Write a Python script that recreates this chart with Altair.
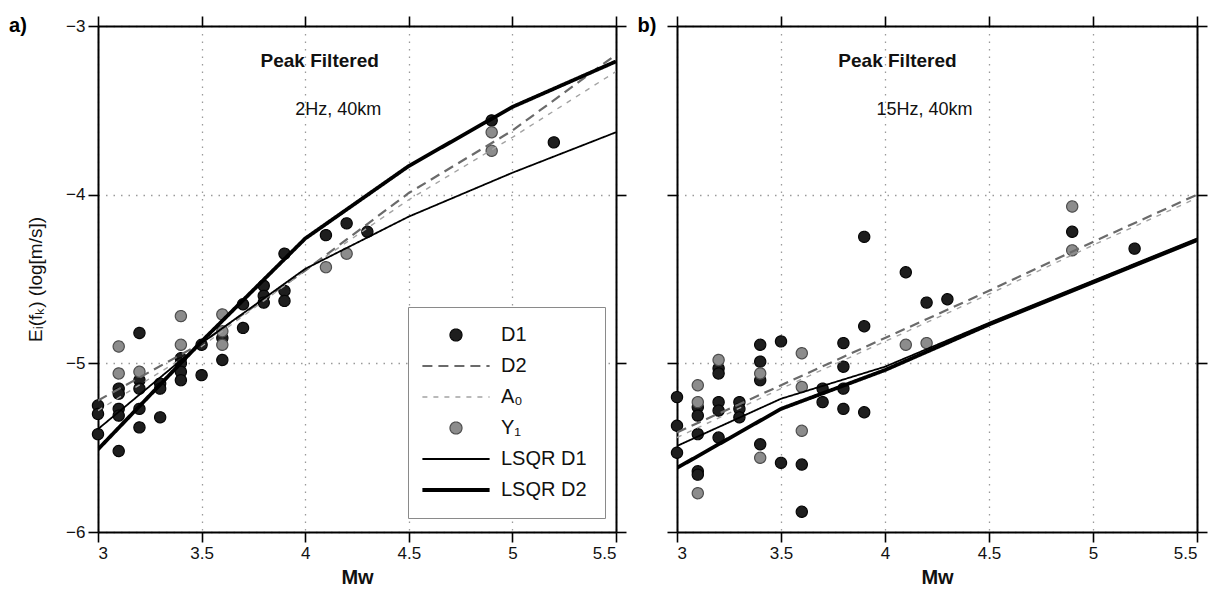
import altair as alt
import pandas as pd

FONT = "Liberation Sans"
SERIES = ["D1", "D2", "A₀", "Y₁", "LSQR D1", "LSQR D2"]

# ---------------- panel a) 2 Hz, 40 km ----------------
a_d1_x = [3.0, 3.0, 3.0, 3.1, 3.1, 3.1, 3.1, 3.1, 3.2, 3.2, 3.2, 3.2, 3.2,
          3.3, 3.3, 3.3, 3.4, 3.4, 3.4, 3.4, 3.5, 3.5, 3.6, 3.6, 3.7, 3.7,
          3.8, 3.8, 3.8, 3.9, 3.9, 3.9, 4.1, 4.2, 4.3, 4.9, 5.2]
a_d1_y = [-5.25, -5.30, -5.42, -5.15, -5.18, -5.27, -5.31, -5.52, -4.82, -5.10,
          -5.15, -5.27, -5.38, -5.12, -5.15, -5.32, -4.97, -5.00, -5.05, -5.10,
          -4.89, -5.07, -4.85, -4.98, -4.65, -4.79, -4.54, -4.60, -4.64, -4.35,
          -4.57, -4.63, -4.24, -4.17, -4.22, -3.56, -3.69]
a_y1_x = [3.1, 3.1, 3.2, 3.4, 3.4, 3.6, 3.6, 3.6, 4.1, 4.2, 4.9, 4.9]
a_y1_y = [-4.90, -5.06, -5.05, -4.72, -4.89, -4.71, -4.81, -4.89, -4.43, -4.35,
          -3.63, -3.74]

MW = [3.0, 3.5, 4.0, 4.5, 5.0, 5.5]
a_d2_line = [-5.22, -4.88, -4.45, -3.99, -3.62, -3.17]
a_a0_line = [-5.28, -4.90, -4.45, -4.03, -3.66, -3.27]
a_lsqr_d1 = [-5.39, -4.88, -4.44, -4.13, -3.87, -3.63]
a_lsqr_d2 = [-5.51, -4.87, -4.26, -3.83, -3.48, -3.21]

# ---------------- panel b) 15 Hz, 40 km ----------------
b_d1_x = [3.0, 3.0, 3.0, 3.1, 3.1, 3.1, 3.1, 3.1, 3.2, 3.2, 3.2, 3.2, 3.2,
          3.3, 3.3, 3.3, 3.4, 3.4, 3.4, 3.4, 3.5, 3.5, 3.6, 3.6, 3.7, 3.7,
          3.8, 3.8, 3.8, 3.8, 3.9, 3.9, 3.9, 4.1, 4.2, 4.3, 4.9, 5.2]
b_d1_y = [-5.20, -5.37, -5.53, -5.26, -5.31, -5.42, -5.64, -5.66, -5.03, -5.06,
          -5.23, -5.28, -5.44, -5.23, -5.27, -5.32, -4.89, -4.99, -5.10, -5.48,
          -4.87, -5.59, -5.60, -5.88, -5.15, -5.23, -4.88, -5.02, -5.15, -5.27,
          -4.25, -4.78, -5.29, -4.46, -4.64, -4.62, -4.22, -4.32]
b_y1_x = [3.1, 3.1, 3.1, 3.2, 3.4, 3.4, 3.6, 3.6, 3.6, 4.1, 4.2, 4.9, 4.9]
b_y1_y = [-5.13, -5.23, -5.77, -4.98, -5.06, -5.56, -4.94, -5.14, -5.40, -4.89,
          -4.88, -4.07, -4.33]

b_d2_line = [-5.41, -5.13, -4.85, -4.57, -4.28, -4.00]
b_a0_line = [-5.44, -5.15, -4.87, -4.59, -4.30, -4.02]
b_lsqr_d1 = [-5.49, -5.21, -5.02, -4.76, -4.51, -4.26]
b_lsqr_d2 = [-5.62, -5.27, -5.04, -4.77, -4.52, -4.27]

# annotation text (data coordinates)
a_labels = ["Peak Filtered", "2Hz, 40km"]
b_labels = ["Peak Filtered", "15Hz, 40km"]
lab_x_a = [4.07, 4.16]
lab_x_b = [4.06, 4.19]
lab_y = [-3.21, -3.50]


def points_df(d1x, d1y, y1x, y1y):
    rows = [{"Mw": x, "E": y, "series": "D1"} for x, y in zip(d1x, d1y)]
    rows += [{"Mw": x, "E": y, "series": "Y₁"} for x, y in zip(y1x, y1y)]
    return pd.DataFrame(rows)


def lines_df(d2, a0, l1, l2):
    rows = []
    for name, vals in [("D2", d2), ("A₀", a0), ("LSQR D1", l1), ("LSQR D2", l2)]:
        for i, (x, y) in enumerate(zip(MW, vals)):
            rows.append({"Mw": x, "E": y, "series": name, "o": i})
    return pd.DataFrame(rows)


LINE_PATH = "M-5.6,0H5.6"
shape_scale = alt.Scale(domain=SERIES,
                        range=["circle", LINE_PATH, LINE_PATH, "circle", LINE_PATH, LINE_PATH])
fill_scale = alt.Scale(domain=SERIES,
                       range=["#1e1e1e", "transparent", "transparent", "#8c8c8c",
                              "transparent", "transparent"])
stroke_scale = alt.Scale(domain=SERIES,
                         range=["#050505", "#6a6a6a", "#a3a3a3", "#4d4d4d", "#000000", "#000000"])
sw_scale = alt.Scale(type="ordinal", domain=SERIES, range=[1.2, 2.2, 1.4, 1.2, 1.8, 3.8])
dash_scale = alt.Scale(domain=SERIES,
                       range=[[1, 0], [10, 6], [5, 6], [1, 0], [1, 0], [1, 0]])

X_SCALE = alt.Scale(domain=[3, 5.5], nice=False, zero=False)
Y_SCALE = alt.Scale(domain=[-6, -3], nice=False, zero=False)


def panel(pdf, ldf, labels, lab_x, title, show_legend, width, ylabels, tdx):
    if show_legend:
        leg = alt.Legend(orient="none", legendX=310, legendY=281, title=None,
                         symbolSize=144, symbolOffset=20, labelOffset=35,
                         rowPadding=11, padding=18, strokeColor="#8a8a8a",
                         fillColor="white", labelFontSize=20, labelFont=FONT,
                         labelColor="#111", symbolStrokeWidth=1.2)
    else:
        leg = None

    x_bottom = alt.Axis(values=MW, format="~g", title="Mw", grid=True,
                        titleFontWeight="bold", titleFontSize=20, titlePadding=6)
    if ylabels:
        y_left = alt.Axis(values=[-6, -5, -4, -3], format="d", grid=True,
                          title="Eᵢ(fₖ) (log[m/s])", titleFontWeight="normal",
                          titleFontSize=19, titlePadding=20)
    else:
        y_left = alt.Axis(values=[-6, -5, -4, -3], labels=False, grid=True, title=None)

    pts = alt.Chart(pdf).mark_point(size=125, opacity=1, filled=False).encode(
        x=alt.X("Mw:Q", scale=X_SCALE, axis=x_bottom),
        y=alt.Y("E:Q", scale=Y_SCALE, axis=y_left),
        shape=alt.Shape("series:N", scale=shape_scale, legend=leg),
        fill=alt.Fill("series:N", scale=fill_scale, legend=leg),
        stroke=alt.Stroke("series:N", scale=stroke_scale, legend=leg),
        strokeWidth=alt.StrokeWidth("series:N", scale=sw_scale, legend=leg),
        strokeDash=alt.StrokeDash("series:N", scale=dash_scale, legend=leg),
    )

    lines = alt.Chart(ldf).mark_line(clip=True).encode(
        x=alt.X("Mw:Q", scale=X_SCALE,
                axis=alt.Axis(orient="top", values=MW, labels=False, title=None, grid=False)),
        y=alt.Y("E:Q", scale=Y_SCALE,
                axis=alt.Axis(orient="right", values=[-6, -5, -4, -3], labels=False,
                              title=None, grid=False)),
        stroke=alt.Stroke("series:N", scale=stroke_scale, legend=None),
        strokeWidth=alt.StrokeWidth("series:N", scale=sw_scale, legend=None),
        strokeDash=alt.StrokeDash("series:N", scale=dash_scale, legend=None),
        detail="series:N",
        order="o:Q",
    )

    tdf = pd.DataFrame({"t": labels, "Mw": lab_x, "E": lab_y})
    t1 = alt.Chart(tdf.iloc[[0]]).mark_text(fontSize=19, fontWeight="bold", font=FONT,
                                            color="#111").encode(
        x=alt.X("Mw:Q", scale=X_SCALE, axis=None),
        y=alt.Y("E:Q", scale=Y_SCALE, axis=None), text="t:N")
    t2 = alt.Chart(tdf.iloc[[1]]).mark_text(fontSize=18, font=FONT, color="#111").encode(
        x=alt.X("Mw:Q", scale=X_SCALE, axis=None),
        y=alt.Y("E:Q", scale=Y_SCALE, axis=None), text="t:N")

    return alt.layer(pts, lines, t1, t2).resolve_axis(
        x="independent", y="independent").properties(
        width=width, height=506,
        title=alt.TitleParams(title, orient="left", anchor="end", angle=0,
                              fontSize=20, fontWeight="bold", font=FONT,
                              baseline="middle", align="right", offset=1, dy=11, dx=tdx))


left = panel(points_df(a_d1_x, a_d1_y, a_y1_x, a_y1_y),
             lines_df(a_d2_line, a_a0_line, a_lsqr_d1, a_lsqr_d2),
             a_labels, lab_x_a, "a)", True, 518, True, 19)
right = panel(points_df(b_d1_x, b_d1_y, b_y1_x, b_y1_y),
              lines_df(b_d2_line, b_a0_line, b_lsqr_d1, b_lsqr_d2),
              b_labels, lab_x_b, "b)", False, 520, False, 10)

chart = alt.hconcat(left, right, spacing=10).properties(
    padding={"left": 9, "top": 15, "right": 3, "bottom": 2}
).configure_view(stroke=None).configure_axis(
    domainColor="black", domainWidth=2, tickColor="black", tickWidth=1.6,
    tickSize=10, labelFontSize=17, labelColor="#111", labelFont=FONT,
    titleFont=FONT, titleColor="#111", gridColor="#9a9a9a", gridDash=[1.5, 6],
    gridWidth=1.3, labelPadding=3,
)

chart.save("out.html", embed_options={"renderer": "svg", "actions": False})
